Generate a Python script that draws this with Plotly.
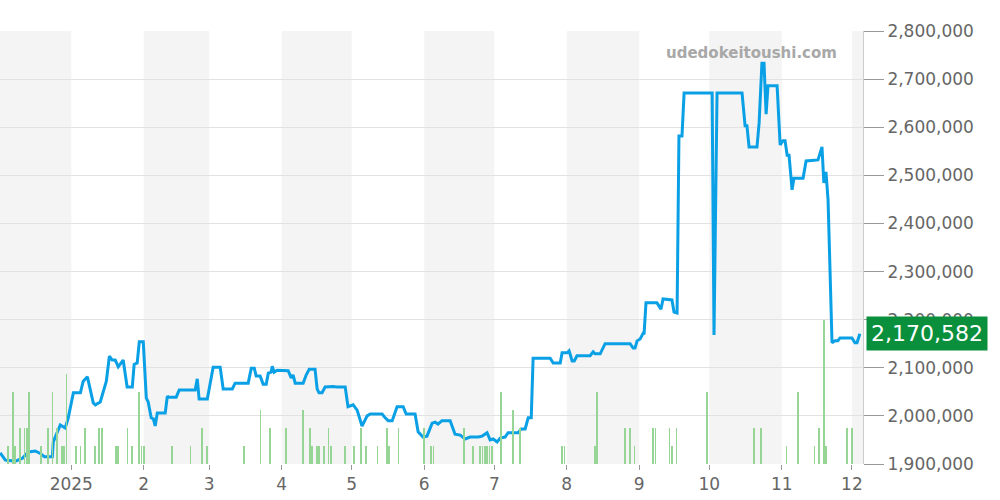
import pandas as pd
import plotly.graph_objects as go

start = pd.Timestamp("2024-12-01")

# price series: days since 2024-12-01, price in thousands of yen
price_day = [0.6, 2.8, 7.1, 10.1, 12.6, 15.6, 17.7, 19.5, 22.9, 23.3, 26.3, 28.4, 29.7, 31.9, 34.9, 36.1, 37.9,
             40.4, 41.3, 43.4, 46.0, 47.3, 48.5, 49.8, 51.1, 53.2, 54.9, 57.1, 57.9, 59.2, 60.1, 61.8, 63.1, 63.9,
             65.2, 66.1, 66.9, 67.8, 71.2, 72.1, 72.5, 75.9, 77.2, 84.0, 84.9, 85.7, 89.2, 90.5, 91.7, 94.7, 96.0,
             99.9, 101.1, 106.7, 108.0, 109.3, 110.1, 111.8, 113.1, 114.4, 115.3, 116.5, 117.0, 117.8, 119.1, 123.8,
             125.1, 125.9, 126.8, 130.2, 131.5, 132.8, 135.3, 136.2, 137.0, 138.3, 139.6, 143.0, 144.7, 148.2, 149.4,
             151.6, 153.3, 155.4, 157.6, 158.9, 164.0, 165.3, 166.6, 168.3, 170.4, 173.0, 174.3, 178.1, 179.4, 181.5,
             183.2, 185.4, 186.7, 187.9, 189.6, 193.1, 195.2, 197.4, 199.5, 201.6, 205.1, 206.8, 208.9, 210.2, 211.5,
             213.2, 214.5, 216.6, 217.9, 222.2, 223.5, 225.2, 226.5, 227.8, 228.6, 235.9, 237.2, 240.2, 241.0, 243.2,
             244.0, 245.3, 246.2, 247.4, 253.0, 254.3, 255.1, 257.3, 259.4, 270.1, 271.4, 272.2, 273.1, 274.4, 275.7,
             276.1, 276.9, 281.6, 283.3, 284.2, 288.0, 288.9, 290.2, 291.0, 292.3, 293.2, 305.2, 306.0, 307.3, 318.0,
             319.3, 320.1, 321.0, 324.4, 325.3, 326.5, 327.4, 328.3, 329.1, 333.0, 334.3, 335.5, 336.4, 337.3, 338.1,
             339.4, 340.2, 344.1, 345.4, 350.5, 352.2, 353.0, 353.9, 354.8, 356.5, 357.8, 359.0, 359.9, 365.0, 366.3,
             367.2, 368.4]
price_k = [1923, 1908, 1906, 1912, 1925, 1927, 1922, 1915, 1915, 1946, 1981, 1975, 1996, 2048, 2048, 2072, 2081,
           2027, 2023, 2029, 2072, 2124, 2116, 2116, 2102, 2116, 2060, 2060, 2107, 2110, 2154, 2154, 2037, 2029,
           1996, 1994, 1979, 2006, 2006, 2041, 2039, 2039, 2054, 2054, 2077, 2035, 2035, 2066, 2101, 2101, 2056,
           2056, 2068, 2068, 2099, 2099, 2083, 2083, 2066, 2066, 2089, 2091, 2103, 2091, 2095, 2094,
           2079, 2085, 2068, 2068, 2085, 2097, 2097, 2056, 2048, 2048, 2060, 2061, 2060, 2060, 2019,
           2023, 2012, 1979, 2000, 2004, 2004, 1996, 1990, 1990, 2019, 2019, 2004, 2004, 1967, 1956,
           1958, 1985, 1987, 1983, 1990, 1990, 1962, 1960, 1952, 1956, 1956, 1958, 1965, 1950, 1952,
           1946, 1954, 1956, 1965, 1965, 1973, 1973, 1996, 1996, 2120, 2120, 2110, 2110, 2131, 2131,
           2135, 2114, 2114, 2125, 2125, 2133, 2129, 2129, 2150, 2150, 2141, 2141, 2156, 2160, 2172,
           2172, 2235, 2235, 2222, 2243, 2241, 2216, 2214, 2582, 2582, 2671, 2671, 2168, 2671, 2671,
           2603, 2603, 2559, 2559, 2609, 2733, 2733, 2627, 2686, 2686, 2563, 2572, 2572, 2542, 2542,
           2470, 2494, 2494, 2530, 2532, 2559, 2484, 2507, 2449, 2152, 2156, 2156, 2162, 2162, 2152,
           2152, 2170.582]

# traded volume (count) per day
vol_day = [4, 6, 7, 9, 11, 12, 13, 13, 18, 21, 23, 25, 25, 27, 28, 29, 33, 35, 37, 41, 43, 44, 50, 51, 55, 57,
           60, 61, 62, 74, 82, 87, 89, 105, 112, 116, 123, 130, 133, 134, 136, 137, 139, 141, 142, 148, 152,
           155, 157, 162, 166, 167, 171, 182, 185, 186, 199, 203, 206, 207, 208, 209, 210, 211, 215, 220, 223,
           241, 242, 255, 256, 268, 270, 272, 280, 281, 287, 288, 290, 303, 323, 326, 337, 342, 349, 351, 353,
           354, 363, 365]
vol = [1, 4, 1, 2, 2, 2, 2, 2, 1, 2, 4, 1, 1, 1, 1, 5, 1, 1, 2, 1, 2, 2, 1, 1, 2, 1,
       4, 1, 1, 1, 1, 2, 1, 1, 3, 2, 2, 3, 2, 1, 1, 1, 1, 2, 1, 1, 1,
       2, 1, 1, 2, 1, 2, 2, 1, 1, 2, 1, 1, 1, 1, 1, 1, 1, 4, 3, 2,
       1, 1, 1, 4, 2, 2, 1, 2, 2, 2, 1, 2, 4, 2, 2, 1, 4, 1, 2, 8,
       1, 2, 2]

month_starts = ["2024-12-01", "2025-01-01", "2025-02-01", "2025-03-01", "2025-04-01", "2025-05-01", "2025-06-01",
                "2025-07-01", "2025-08-01", "2025-09-01", "2025-10-01", "2025-11-01", "2025-12-01", "2026-01-01"]
tick_labels = ["2025", "2", "3", "4", "5", "6", "7", "8", "9", "10", "11", "12"]
last_price = 2170582

px = [start + pd.Timedelta(days=d) for d in price_day]
py = [v * 1000 for v in price_k]
vx = [start + pd.Timedelta(days=d) for d in vol_day]

fig = go.Figure()
fig.add_trace(go.Bar(x=vx, y=vol, yaxis="y2", marker_color="#97d597", marker_line_width=0,
                     width=0.3 * 86400000, showlegend=False))
fig.add_trace(go.Scatter(x=px, y=py, mode="lines", line=dict(color="#0aa0e6", width=3),
                         showlegend=False))

# alternating month shading
for i in range(0, len(month_starts) - 1, 2):
    fig.add_shape(type="rect", xref="x", yref="paper", x0=month_starts[i], x1=month_starts[i + 1],
                  y0=0, y1=1, fillcolor="#f4f4f4", line_width=0, layer="below")

fig.add_annotation(xref="paper", yref="y", x=1.003, y=last_price, xanchor="left",
                   text=f"{last_price:,}", showarrow=False, bgcolor="#0a8f3c",
                   font=dict(color="white", size=22, family="DejaVu Sans"), borderpad=4)
fig.add_annotation(xref="paper", yref="paper", x=0.972, y=0.95, xanchor="right", yanchor="middle",
                   text="<b>udedokeitoushi.com</b>", showarrow=False,
                   font=dict(color="#a8a8a8", size=15, family="DejaVu Sans"))

fig.update_layout(
    width=1000, height=500, margin=dict(l=0, r=137, t=31, b=36, autoexpand=False),
    plot_bgcolor="white", paper_bgcolor="white", bargap=0,
    font=dict(family="DejaVu Sans", color="#666"),
    xaxis=dict(range=["2024-12-01 12:00", "2025-12-05 18:00"], tickvals=month_starts[1:-1],
               ticktext=tick_labels, showgrid=False, ticks="outside", ticklen=5, tickcolor="#999",
               tickfont=dict(size=17), zeroline=False, automargin=False),
    yaxis=dict(side="right", range=[1900000, 2800000], dtick=100000, tickformat=",",
               gridcolor="#e2e2e2", ticks="outside", ticklen=20, tickcolor="#999",
               tickfont=dict(size=17), zeroline=False, showline=True, linecolor="#ccc",
               automargin=False),
    yaxis2=dict(overlaying="y", range=[0, 24], visible=False),
)

fig.write_html("out.html", config={"displayModeBar": False},
               post_script="document.body.style.margin='0';")
